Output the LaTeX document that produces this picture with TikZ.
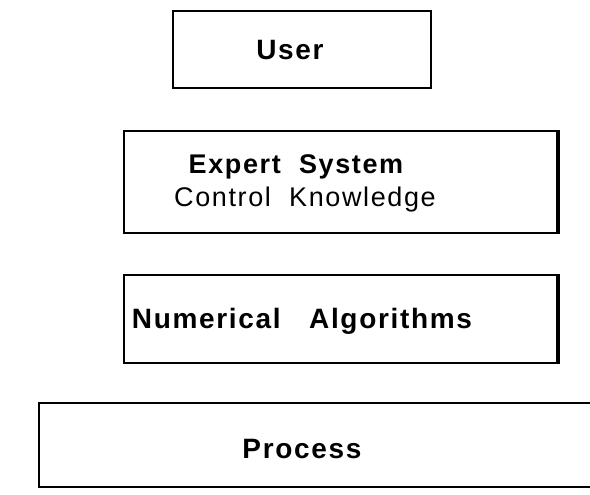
\documentclass[tikz,border=0pt]{standalone}
\usepackage{fontspec}
\setmainfont{Liberation Sans}[LetterSpace=6]
\usetikzlibrary{positioning}
\tikzset{
  layer/.style = {draw, line width=2pt, rectangle, inner sep=0pt},
  caption/.style = {inner sep=0pt, anchor=base, font=\fontsize{28}{34}\selectfont\bfseries},
  smallcaption/.style = {caption, font=\fontsize{27}{32}\selectfont\bfseries},
  heavy/.style = {line width=4pt}
}

\begin{document}
\begin{tikzpicture}[x=1pt, y=-1pt]
      \useasboundingbox (0,0) rectangle (590,495);
      \node[layer, minimum width=258pt, minimum height=77pt] (user) at (302,50) {};
      \node[caption] (usertext) at (290,60) {User};
      \node[layer, minimum width=433pt, minimum height=101pt] (expert) at (340.5,182) {};
      \node[smallcaption] (experttext) at (296,174) {Expert~~System};
      \node[smallcaption, font=\fontsize{27}{32}\selectfont\mdseries] (knowledgetext) at (305,206) {Control~~Knowledge};
      \node[layer, minimum width=433pt, minimum height=88pt] (numeric) at (340.5,319) {};
      \node[caption] (numerictext) at (302,328) {Numerical~~~Algorithms};
      \node[layer, minimum width=555pt, minimum height=84pt] (process) at (316.5,445) {};
      \node[caption] (processtext) at (302,458) {Process};
      \draw[heavy] (expert.north east) -- (expert.south east);
      \draw[heavy] (numeric.north east) -- (numeric.south east);
\end{tikzpicture}
\end{document}
